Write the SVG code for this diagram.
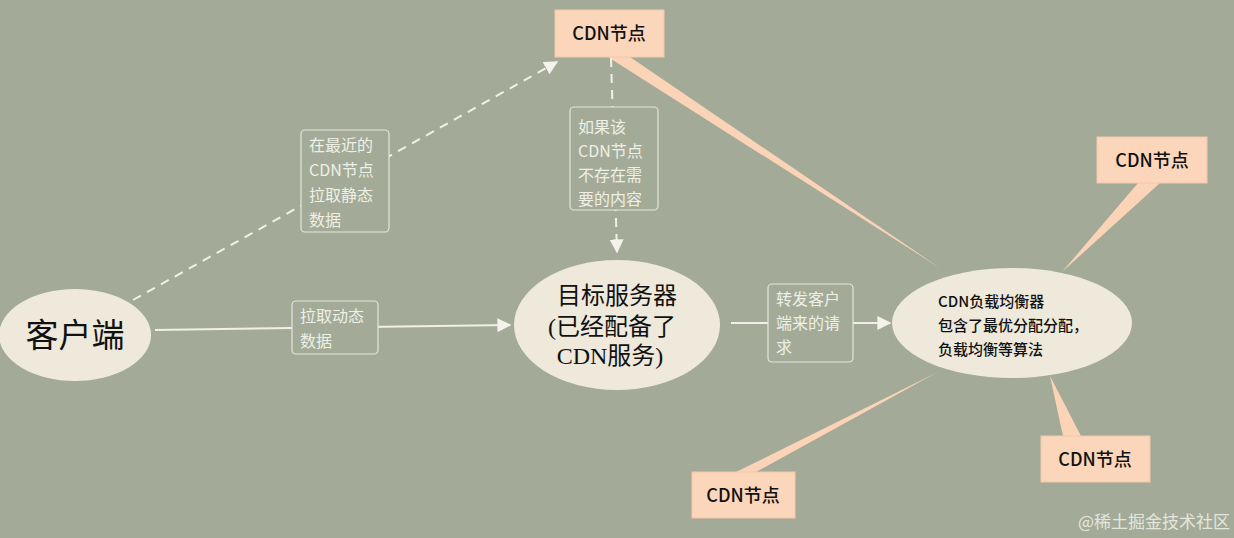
<svg xmlns="http://www.w3.org/2000/svg" width="1234" height="538" viewBox="0 0 1234 538">
<defs>
<marker id="arr" viewBox="0 0 10 10" refX="9" refY="5" markerWidth="14" markerHeight="14" markerUnits="userSpaceOnUse" orient="auto">
<path d="M0,0 L10,5 L0,10 z" fill="#f4f2ea"/>
</marker>
<style>
.ln{stroke:#f2efe6;stroke-width:2;fill:none}
.dash{stroke-dasharray:9 7}
.lbl{fill:#a3ab98;stroke:#e4e6dc;stroke-width:1.2}
.lt{font-family:"Noto Sans CJK SC","Noto Sans",sans-serif;font-size:16px;fill:#eef0e6}
.ell{fill:#eee9db}
.cdn{fill:#fbd6ba;stroke:#f3c7a8;stroke-width:1}
.ct{font-family:"Noto Sans CJK SC","Noto Sans",sans-serif;font-size:18px;fill:#111;text-anchor:middle;font-weight:500}
.wedge{fill:#fbd3b6}
.st{font-family:"Liberation Serif","Noto Sans CJK SC",serif;fill:#111;text-anchor:middle}
</style>
</defs>
<rect width="1234" height="538" fill="#a3ab98"/>
<g id="wedges">
<polygon class="wedge" points="608,57 630,57 940,268"/>
<polygon class="wedge" points="1138,183 1160,183 1062,272"/>
<polygon class="wedge" points="1063,436 1081,436 1050,376"/>
<polygon class="wedge" points="736,472 756,472 936,373"/>
</g>
<g id="connectors">
<line class="ln dash" x1="133" y1="300" x2="557" y2="62" marker-end="url(#arr)"/>
<line class="ln" x1="155" y1="330" x2="510" y2="325" marker-end="url(#arr)"/>
<line class="ln dash" x1="611" y1="58" x2="617" y2="252" marker-end="url(#arr)"/>
<line class="ln" x1="731" y1="323" x2="890" y2="323" marker-end="url(#arr)"/>
</g>
<g id="label-static">
<rect class="lbl" x="301" y="130" width="88" height="102" rx="4"/>
<text class="lt" x="309" y="151">在最近的</text>
<text class="lt" x="309" y="176">CDN节点</text>
<text class="lt" x="309" y="201">拉取静态</text>
<text class="lt" x="309" y="226">数据</text>
</g>
<g id="label-dynamic">
<rect class="lbl" x="292" y="301" width="86" height="53" rx="4"/>
<text class="lt" x="300" y="322">拉取动态</text>
<text class="lt" x="300" y="347">数据</text>
</g>
<g id="label-miss">
<rect class="lbl" x="570" y="107" width="88" height="103" rx="4"/>
<text class="lt" x="578" y="133">如果该</text>
<text class="lt" x="578" y="157">CDN节点</text>
<text class="lt" x="578" y="181">不存在需</text>
<text class="lt" x="578" y="205">要的内容</text>
</g>
<g id="label-forward">
<rect class="lbl" x="768" y="284" width="85" height="78" rx="4"/>
<text class="lt" x="776" y="305">转发客户</text>
<text class="lt" x="776" y="329">端来的请</text>
<text class="lt" x="776" y="353">求</text>
</g>
<g id="client">
<ellipse class="ell" cx="75" cy="335" rx="76" ry="46"/>
<text class="st" x="75" y="347" font-size="33">客户端</text>
</g>
<g id="server">
<ellipse class="ell" cx="617" cy="325" rx="103" ry="65"/>
<text class="st" x="617" y="304" font-size="24">目标服务器</text>
<text class="st" x="612" y="335" font-size="24">(已经配备了</text>
<text class="st" x="610" y="364" font-size="24">CDN服务)</text>
</g>
<g id="balancer">
<ellipse class="ell" cx="1012" cy="323" rx="120" ry="55"/>
<g font-family="Noto Sans CJK SC,sans-serif" font-size="15" fill="#111" font-weight="500">
<text x="938" y="307">CDN负载均衡器</text>
<text x="938" y="331">包含了最优分配分配，</text>
<text x="938" y="355">负载均衡等算法</text>
</g>
</g>
<g id="cdn-top">
<rect class="cdn" x="555" y="10" width="109" height="47"/>
<text class="ct" x="609" y="40">CDN节点</text>
</g>
<g id="cdn-right">
<rect class="cdn" x="1097" y="137" width="110" height="46"/>
<text class="ct" x="1152" y="167">CDN节点</text>
</g>
<g id="cdn-bottom-right">
<rect class="cdn" x="1041" y="436" width="109" height="46"/>
<text class="ct" x="1095" y="466">CDN节点</text>
</g>
<g id="cdn-bottom-left">
<rect class="cdn" x="692" y="472" width="103" height="46"/>
<text class="ct" x="743" y="502">CDN节点</text>
</g>
<text x="1230" y="528" text-anchor="end" font-family="Noto Sans CJK SC,sans-serif" font-size="17" fill="#e4e6de">@稀土掘金技术社区</text>
</svg>
